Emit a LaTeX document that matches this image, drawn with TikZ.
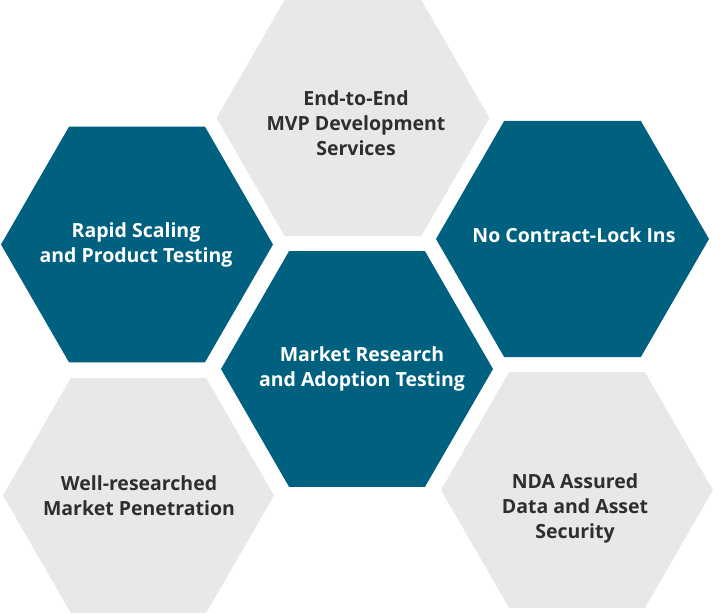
\documentclass[tikz,border=0pt]{standalone}
\usepackage{fontspec}
\setmainfont{Open Sans}
\definecolor{hexblue}{HTML}{00607F}
\definecolor{hexgray}{HTML}{E8E8E8}
\definecolor{txtdark}{HTML}{2E2E2E}
\tikzset{
  hexb/.style={fill=hexblue},
  hexg/.style={fill=hexgray},
  lbl/.style={align=center, inner sep=0pt, font=\fontsize{19.5}{25}\selectfont\bfseries},
  lblw/.style={lbl, text=white},
  lbld/.style={lbl, text=txtdark},
}
\begin{document}
\begin{tikzpicture}[x=1pt,y=-1pt]
\useasboundingbox (0,0) rectangle (727,613);
% hexagons
\fill[hexg] (353,118) +(0:136.5) -- +(60:136.5) -- +(120:136.5) -- +(180:136.5) -- +(240:136.5) -- +(300:136.5) -- cycle;
\fill[hexb] (137,244.5) +(0:136) -- +(60:136) -- +(120:136) -- +(180:136) -- +(240:136) -- +(300:136) -- cycle;
\fill[hexb] (572.5,239) +(0:136.5) -- +(60:136.5) -- +(120:136.5) -- +(180:136.5) -- +(240:136.5) -- +(300:136.5) -- cycle;
\fill[hexb] (357,369) +(0:136) -- +(60:136) -- +(120:136) -- +(180:136) -- +(240:136) -- +(300:136) -- cycle;
\fill[hexg] (138.5,495.5) +(0:135.5) -- +(60:135.5) -- +(120:135.5) -- +(180:135.5) -- +(240:135.5) -- +(300:135.5) -- cycle;
\fill[hexg] (577,490) +(0:136) -- +(60:136) -- +(120:136) -- +(180:136) -- +(240:136) -- +(300:136) -- cycle;
% labels
\node[lbld] (t1) at (356,123) {End-to-End\\MVP Development\\Services};
\node[lblw] (t2) at (136,245) {Rapid Scaling\\and Product Testing};
\node[lblw] (t3) at (574,235) {No Contract-Lock Ins};
\node[lblw] (t4) at (362,369) {Market Research\\and Adoption Testing};
\node[lbld] (t5) at (139,496) {Well-researched\\Market Penetration};
\node[lbld] (t6) at (575,508) {NDA Assured\\Data and Asset\\Security};
\end{tikzpicture}
\end{document}
